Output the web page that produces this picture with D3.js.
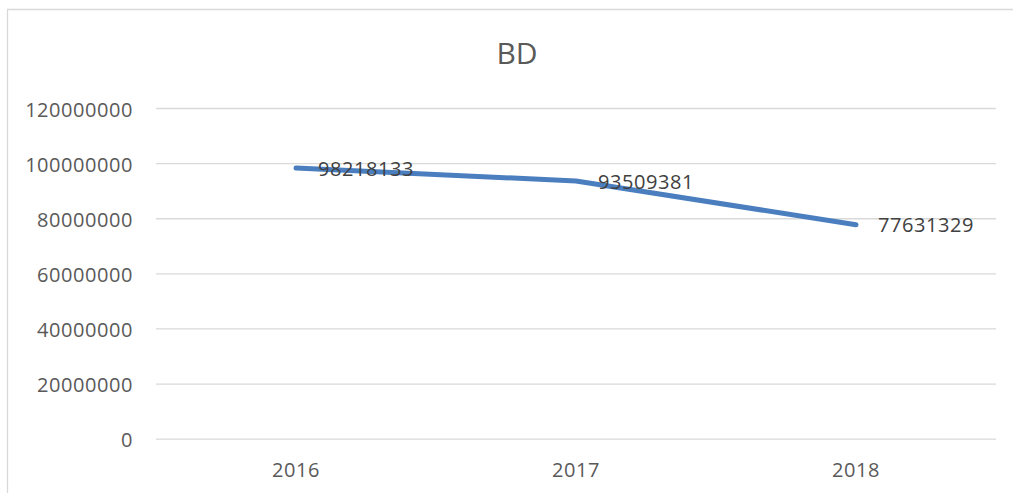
<!DOCTYPE html>
<html>
<head>
<meta charset="utf-8">
<script src="https://cdn.jsdelivr.net/npm/d3@7"></script>
<style>
  body { margin: 0; background: #fff; }
  svg { display: block; }
  text { font-family: "Open Sans", "Noto Sans", sans-serif; }
</style>
</head>
<body>
<div id="chart"></div>
<script>
const width = 1013;
const height = 493;

// data
const years = ["2016", "2017", "2018"];
const values = [98218133, 93509381, 77631329];
const yTicks = [0, 20000000, 40000000, 60000000, 80000000, 100000000, 120000000];
const title = "BD";

const plotLeft = 156, plotRight = 996, plotTop = 108, plotBottom = 438.7;

const svg = d3.select('#chart').append('svg')
    .attr('width', width)
    .attr('height', height);

// chart area border (cropped on right and bottom)
svg.append('path')
    .attr('d', 'M7.5,' + (height + 5) + 'V9.5H' + (width + 5))
    .attr('fill', 'none')
    .attr('stroke', '#d9d9d9')
    .attr('stroke-width', 1.3);

const x = d3.scaleBand().domain(years).range([plotLeft, plotRight]).padding(0);
const y = d3.scaleLinear().domain([0, 120000000]).range([plotBottom, plotTop]);
const cx = d => x(d) + x.bandwidth() / 2;

// gridlines + y labels
const yAxis = svg.append('g')
    .attr('transform', `translate(${plotLeft},0)`)
    .call(d3.axisLeft(y).tickValues(yTicks).tickFormat(d3.format('d'))
        .tickSize(-(plotRight - plotLeft)).tickPadding(23));
yAxis.select('.domain').remove();
yAxis.selectAll('line').attr('stroke', '#d9d9d9').attr('stroke-width', 1.3);
yAxis.selectAll('text')
    .attr('dy', '0.4em')
    .attr('fill', '#595959')
    .style('font-size', '20px')
    .style('letter-spacing', '0.55px');

// x labels
const xAxis = svg.append('g')
    .attr('transform', `translate(0,${plotBottom})`)
    .call(d3.axisBottom(x).tickSize(0));
xAxis.select('.domain').remove();
xAxis.selectAll('text')
    .attr('y', 477.5 - plotBottom)
    .attr('dy', null)
    .attr('fill', '#595959')
    .style('font-size', '20px')
    .style('letter-spacing', '0.55px');

// title
svg.append('text')
    .attr('x', 517)
    .attr('y', 63.5)
    .attr('text-anchor', 'middle')
    .attr('fill', '#595959')
    .style('font-size', '30px')
    .text(title);

// line
const pts = years.map((d, i) => [cx(d), y(values[i])]);
svg.append('path')
    .datum(pts)
    .attr('d', d3.line())
    .attr('fill', 'none')
    .attr('stroke', '#4a7ebf')
    .attr('stroke-width', 5)
    .attr('stroke-linecap', 'round')
    .attr('stroke-linejoin', 'round');

// data labels
svg.selectAll('.dlabel')
    .data(years)
    .enter().append('text')
    .attr('class', 'dlabel')
    .attr('x', d => cx(d) + 22)
    .attr('y', (d, i) => y(values[i]))
    .attr('dy', '0.38em')
    .attr('fill', '#404040')
    .style('font-size', '20px')
    .style('letter-spacing', '0.55px')
    .text((d, i) => values[i]);
</script>
</body>
</html>
